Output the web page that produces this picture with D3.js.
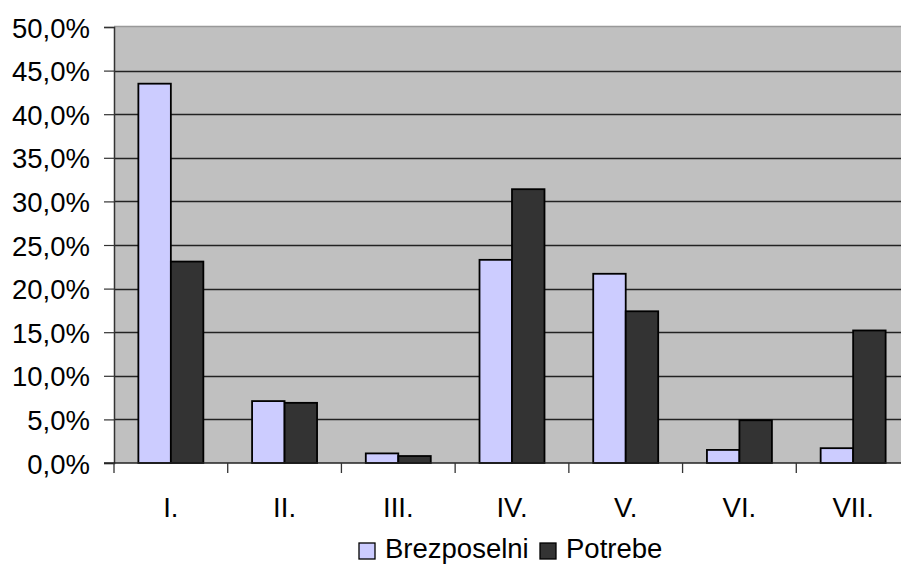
<!DOCTYPE html>
<html><head><meta charset="utf-8">
<script src="https://cdn.jsdelivr.net/npm/d3@7"></script>
<style>body{margin:0;background:#fff}svg{display:block}text{font-family:"Liberation Sans",Arial,sans-serif;fill:#000}</style>
</head><body><svg id="c" width="901" height="565"></svg>
<script>
const categories = ["I.", "II.", "III.", "IV.", "V.", "VI.", "VII."];
const seriesNames = ["Brezposelni", "Potrebe"];
const brezposelni = [0.435, 0.071, 0.011, 0.233, 0.217, 0.015, 0.017];
const potrebe = [0.231, 0.069, 0.008, 0.314, 0.174, 0.049, 0.152];
const yTicks = [0, 0.05, 0.10, 0.15, 0.20, 0.25, 0.30, 0.35, 0.40, 0.45, 0.50];
const colors = ["#CCCCFF", "#333333"];

(function () {
const svg = d3.select("#c");
const pl = 114, pr = 910, pt = 27, pb = 463;
const x = d3.scaleBand().domain(categories).range([pl, pr]).paddingInner(0).paddingOuter(0);
const xs = d3.scaleBand().domain(seriesNames).range([0, x.bandwidth()]).paddingInner(0).paddingOuter(0.75);
const y = d3.scaleLinear().domain([0, 0.5]).range([pb, pt]);
const fmt = v => d3.format(".1%")(v).replace(".", ",");

svg.append("rect").attr("x", pl).attr("y", pt).attr("width", 901 - pl).attr("height", pb - pt).attr("fill", "#C0C0C0");
svg.append("line").attr("x1", pl).attr("x2", 901).attr("y1", pt - 0.5).attr("y2", pt - 0.5).attr("stroke", "#999").attr("stroke-width", 1.5);

// gridlines
svg.append("g").selectAll("line").data(yTicks.filter(t => t > 0 && t < 0.5)).join("line")
  .attr("x1", pl).attr("x2", 901).attr("y1", d => Math.round(y(d)) + 0.5).attr("y2", d => Math.round(y(d)) + 0.5)
  .attr("stroke", "#222").attr("stroke-width", 1.3);

// y axis
const ya = svg.append("g").attr("transform", `translate(${pl},0)`)
  .call(d3.axisLeft(y).tickValues(yTicks).tickSize(10).tickPadding(14).tickFormat(fmt));
ya.select(".domain").attr("stroke", "#333").attr("stroke-width", 1.5);
ya.selectAll(".tick line").attr("stroke", "#333").attr("stroke-width", 1.2);
ya.selectAll(".tick text").attr("font-size", 27.5).attr("font-family", "Liberation Sans, Arial, sans-serif").attr("fill", "#000").attr("dy", "0.37em");

// bars
const data = categories.map((c, i) => ({c, vals: [brezposelni[i], potrebe[i]]}));
const g = svg.append("g").selectAll("g").data(data).join("g").attr("transform", d => `translate(${x(d.c)},0)`);
g.selectAll("rect").data(d => d.vals.map((v, j) => ({v, s: seriesNames[j], j}))).join("rect")
  .attr("x", d => xs(d.s)).attr("width", xs.bandwidth())
  .attr("y", d => y(d.v)).attr("height", d => pb - y(d.v))
  .attr("fill", d => colors[d.j]).attr("stroke", "#000").attr("stroke-width", 1.8);

// x axis
const xa = svg.append("g").attr("transform", `translate(0,${pb})`)
  .call(d3.axisBottom(x).tickSize(0).tickPadding(34));
xa.select(".domain").remove();
xa.selectAll(".tick text").attr("font-size", 27.5).attr("font-family", "Liberation Sans, Arial, sans-serif").attr("fill", "#000");
svg.append("line").attr("x1", pl - 10).attr("x2", 901).attr("y1", pb).attr("y2", pb).attr("stroke", "#222").attr("stroke-width", 1.5);
svg.append("g").selectAll("line").data(categories).join("line")
  .attr("x1", d => x(d)).attr("x2", d => x(d)).attr("y1", pb).attr("y2", pb + 10)
  .attr("stroke", "#333").attr("stroke-width", 1.3);

// legend
const leg = svg.append("g");
const legX = [359, 540];
seriesNames.forEach((s, i) => {
  leg.append("rect").attr("x", legX[i]).attr("y", 543).attr("width", 16).attr("height", 16)
    .attr("fill", colors[i]).attr("stroke", "#000").attr("stroke-width", 1.3);
  leg.append("text").attr("x", legX[i] + 26).attr("y", 558).attr("font-size", 27.5).text(s);
});
})();
</script></body></html>
